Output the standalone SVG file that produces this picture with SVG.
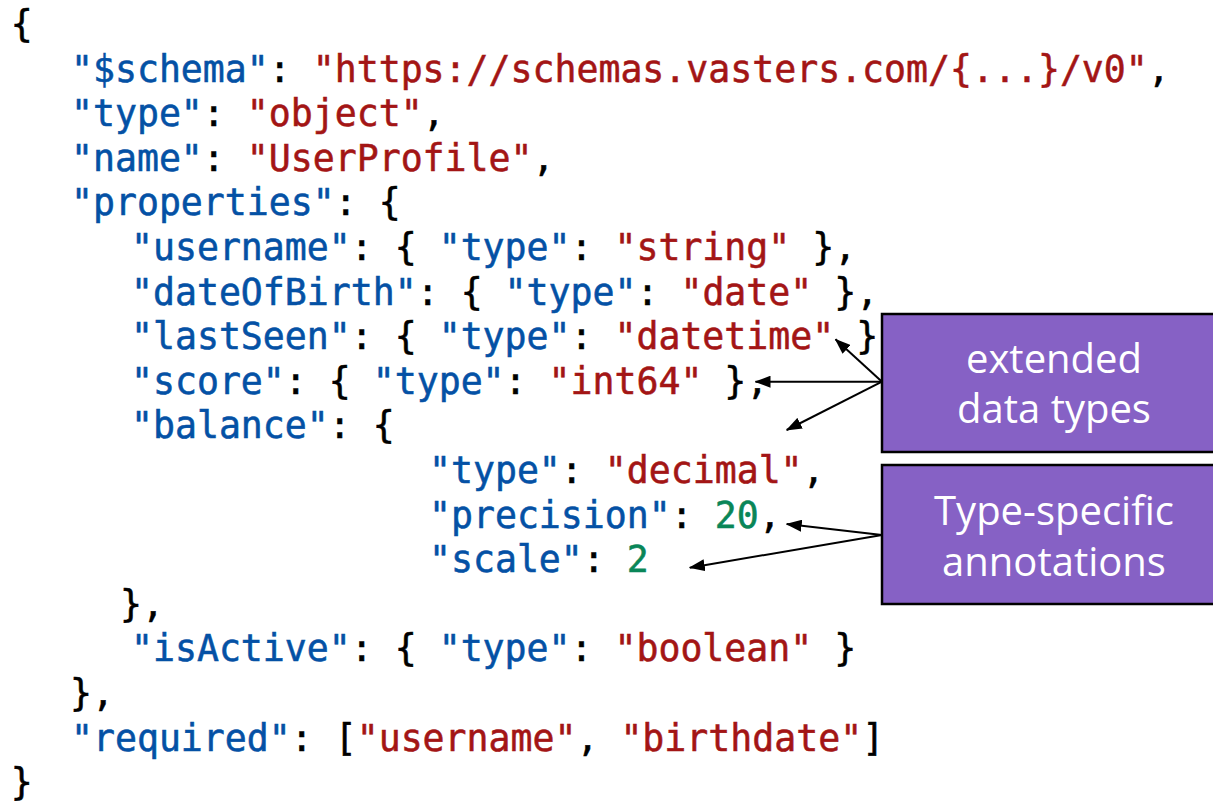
<svg xmlns="http://www.w3.org/2000/svg" width="1213" height="803" viewBox="0 0 1213 803">
  <defs>
    <style>
      .code{font-family:"DejaVu Sans Mono","Liberation Mono",monospace;font-size:36.5px;stroke-width:0.55px;white-space:pre}
      .p{fill:#000;stroke:#000}
      .k{fill:#0451A5;stroke:#0451A5}
      .s{fill:#A31515;stroke:#A31515}
      .n{fill:#098658;stroke:#098658}
      .box{fill:#8661C5;stroke:#000;stroke-width:2.5}
      .label{font-family:"Open Sans","Noto Sans","DejaVu Sans",sans-serif;font-size:40px;fill:#fff;text-anchor:middle}
      .conn{stroke:#000;stroke-width:2;fill:none}
    </style>
    <marker id="arrow" viewBox="0 0 16 12" refX="15" refY="6" markerWidth="16" markerHeight="12" markerUnits="userSpaceOnUse" orient="auto">
      <path d="M0,0 L16,6 L0,12 z" fill="#000"/>
    </marker>
  </defs>

  <rect width="1213" height="803" fill="#fff"/>

  <!-- JSON schema source listing -->
  <g id="code" class="code">
    <text class="code p" x="10.7" y="37" xml:space="preserve">{</text>
    <text class="code p" x="71" y="81.6" xml:space="preserve"><tspan class="k">"$schema"</tspan>: <tspan class="s">"https://schemas.vasters.com/{...}/v0"</tspan>,</text>
    <text class="code p" x="71" y="126.2" xml:space="preserve"><tspan class="k">"type"</tspan>: <tspan class="s">"object"</tspan>,</text>
    <text class="code p" x="71" y="170.8" xml:space="preserve"><tspan class="k">"name"</tspan>: <tspan class="s">"UserProfile"</tspan>,</text>
    <text class="code p" x="71" y="215.4" xml:space="preserve"><tspan class="k">"properties"</tspan>: {</text>
    <text class="code p" x="131" y="260" xml:space="preserve"><tspan class="k">"username"</tspan>: { <tspan class="k">"type"</tspan>: <tspan class="s">"string"</tspan> },</text>
    <text class="code p" x="131" y="304.6" xml:space="preserve"><tspan class="k">"dateOfBirth"</tspan>: { <tspan class="k">"type"</tspan>: <tspan class="s">"date"</tspan> },</text>
    <text class="code p" x="131" y="349.2" xml:space="preserve"><tspan class="k">"lastSeen"</tspan>: { <tspan class="k">"type"</tspan>: <tspan class="s">"datetime"</tspan> }</text>
    <text class="code p" x="131" y="393.8" xml:space="preserve"><tspan class="k">"score"</tspan>: { <tspan class="k">"type"</tspan>: <tspan class="s">"int64"</tspan> },</text>
    <text class="code p" x="131" y="438.4" xml:space="preserve"><tspan class="k">"balance"</tspan>: {</text>
    <text class="code p" x="429" y="483" xml:space="preserve"><tspan class="k">"type"</tspan>: <tspan class="s">"decimal"</tspan>,</text>
    <text class="code p" x="429" y="527.6" xml:space="preserve"><tspan class="k">"precision"</tspan>: <tspan class="n">20</tspan>,</text>
    <text class="code p" x="429" y="572.2" xml:space="preserve"><tspan class="k">"scale"</tspan>: <tspan class="n">2</tspan></text>
    <text class="code p" x="120" y="616.8" xml:space="preserve">},</text>
    <text class="code p" x="131" y="661.4" xml:space="preserve"><tspan class="k">"isActive"</tspan>: { <tspan class="k">"type"</tspan>: <tspan class="s">"boolean"</tspan> }</text>
    <text class="code p" x="70" y="706" xml:space="preserve">},</text>
    <text class="code p" x="71" y="750.6" xml:space="preserve"><tspan class="k">"required"</tspan>: [<tspan class="s">"username"</tspan>, <tspan class="s">"birthdate"</tspan>]</text>
    <text class="code p" x="10.7" y="795.2" xml:space="preserve">}</text>
  </g>

  <!-- callout arrows -->
  <g id="connectors" class="conn">
    <line x1="882" y1="381.7" x2="835.5" y2="339.3" marker-end="url(#arrow)"/>
    <line x1="882" y1="381.7" x2="755.5" y2="381.7" marker-end="url(#arrow)"/>
    <line x1="882" y1="381.7" x2="786.7" y2="430" marker-end="url(#arrow)"/>
    <line x1="882" y1="535" x2="786.7" y2="524" marker-end="url(#arrow)"/>
    <line x1="882" y1="535" x2="689.8" y2="567.7" marker-end="url(#arrow)"/>
  </g>

  <!-- callout boxes -->
  <g id="extended-types">
    <rect class="box" x="882" y="314" width="360" height="138"/>
    <text class="label" x="1054" y="373">extended</text>
    <text class="label" x="1054" y="423">data types</text>
  </g>
  <g id="type-annotations">
    <rect class="box" x="882" y="465" width="360" height="139"/>
    <text class="label" x="1054" y="525">Type-specific</text>
    <text class="label" x="1054" y="576">annotations</text>
  </g>
</svg>
